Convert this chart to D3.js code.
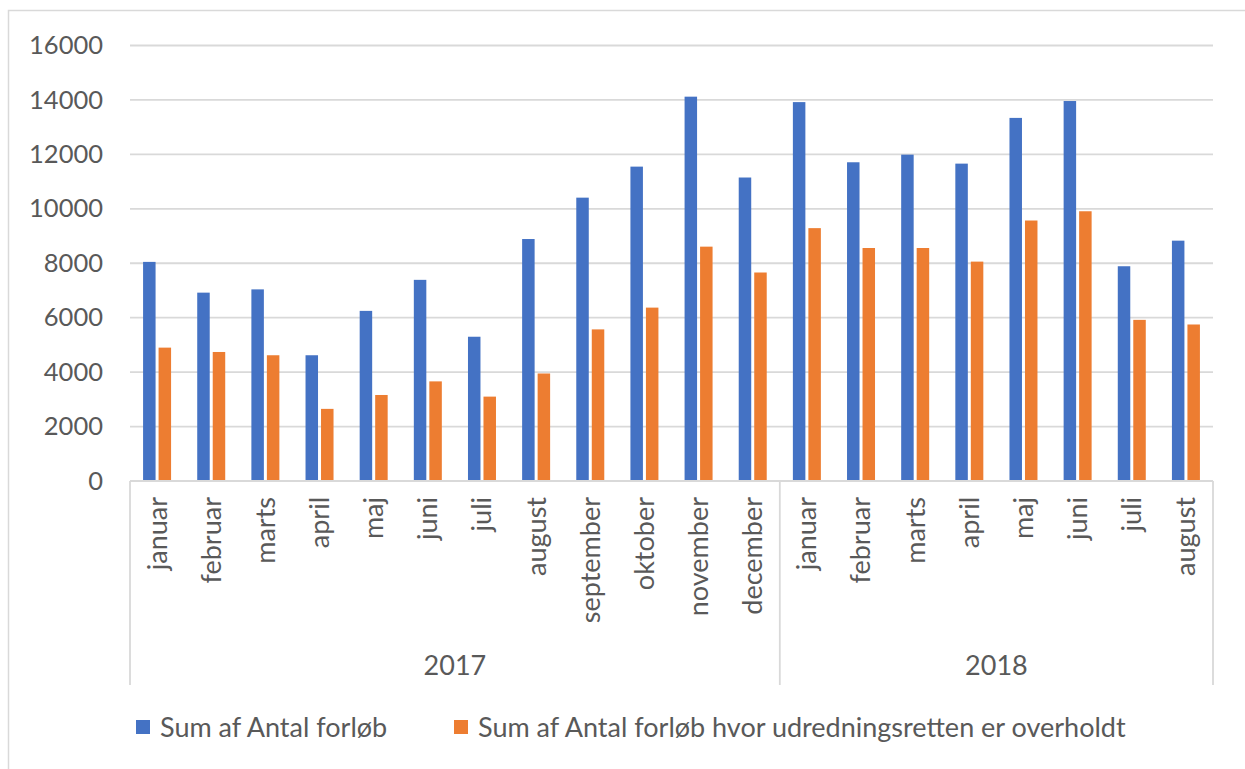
<!DOCTYPE html>
<html>
<head>
<meta charset="utf-8">
<script src="https://cdn.jsdelivr.net/npm/d3@7/dist/d3.min.js"></script>
<style>
  html, body { margin: 0; padding: 0; background: #ffffff; }
  svg { display: block; }
  text { font-family: Lato, "Open Sans", sans-serif; fill: #595959; }
</style>
</head>
<body>
<svg id="chart" width="1245" height="769"></svg>
<script>
// ---- data ----
const months = ["januar","februar","marts","april","maj","juni","juli","august","september","oktober","november","december",
                "januar","februar","marts","april","maj","juni","juli","august"];
const years = ["2017","2018"];
const monthsPerYear = [12, 8];
const seriesNames = ["Sum af Antal forløb", "Sum af Antal forløb hvor udredningsretten er overholdt"];
const antalForloeb = [8050, 6920, 7040, 4620, 6250, 7390, 5300, 8890, 10410, 11550, 14120, 11150,
                      13920, 11710, 11990, 11660, 13340, 13960, 7890, 8830];
const antalOverholdt = [4900, 4740, 4620, 2650, 3160, 3660, 3100, 3950, 5570, 6370, 8610, 7660,
                        9290, 8560, 8560, 8060, 9570, 9910, 5920, 5750];
const yTicks = [0, 2000, 4000, 6000, 8000, 10000, 12000, 14000, 16000];
const colors = ["#4472c4", "#ed7d31"];

// ---- layout ----
const svg = d3.select("#chart");
const mLeft = 130, mRight = 1213, mTop = 45.5, mBottom = 481, catBottom = 685;
const fs = 27, fsTick = 25.5;

// outer border
svg.append("rect").attr("x", 8.5).attr("y", 10.5).attr("width", 1250).attr("height", 780)
  .attr("fill", "none").attr("stroke", "#d9d9d9").attr("stroke-width", 1.5);

const idx = months.map((m, i) => i);
const x = d3.scaleBand().domain(idx).range([mLeft, mRight]).paddingInner(0.483).paddingOuter(0.2415);
const x1 = d3.scaleBand().domain([0, 1]).range([0, x.bandwidth()]).paddingInner(0.194);
const y = d3.scaleLinear().domain([0, 16000]).range([mBottom, mTop]);

// gridlines
svg.append("g").selectAll("line").data(yTicks.filter(t => t > 0)).join("line")
  .attr("x1", mLeft).attr("x2", mRight)
  .attr("y1", d => y(d)).attr("y2", d => y(d))
  .attr("stroke", "#d9d9d9").attr("stroke-width", 1.8);

// y axis labels
const yAxis = d3.axisLeft(y).tickValues(yTicks).tickFormat(d3.format("d")).tickSize(0).tickPadding(27);
const yg = svg.append("g").attr("transform", `translate(${mLeft},0)`).call(yAxis);
yg.select(".domain").remove();
yg.selectAll("text").style("font-size", fsTick + "px").attr("fill", "#595959").attr("font-family", "Lato");

// bars
const data = idx.map(i => [antalForloeb[i], antalOverholdt[i]]);
const groups = svg.append("g").selectAll("g").data(data).join("g")
  .attr("transform", (d, i) => `translate(${x(i)},0)`);
groups.selectAll("rect").data(d => d.map((v, s) => ({v, s}))).join("rect")
  .attr("x", d => x1(d.s)).attr("width", x1.bandwidth())
  .attr("y", d => y(d.v)).attr("height", d => y(0) - y(d.v))
  .attr("fill", d => colors[d.s]);

// category axis (multi-level)
svg.append("line").attr("x1", mLeft).attr("x2", mRight).attr("y1", mBottom).attr("y2", mBottom)
  .attr("stroke", "#d9d9d9").attr("stroke-width", 1.8);
const step = x.step();
const sepIdx = [0, monthsPerYear[0], monthsPerYear[0] + monthsPerYear[1]];
svg.append("g").selectAll("line").data(sepIdx).join("line")
  .attr("x1", d => mLeft + d * step).attr("x2", d => mLeft + d * step)
  .attr("y1", mBottom).attr("y2", catBottom)
  .attr("stroke", "#d9d9d9").attr("stroke-width", 1.8);

// month labels
svg.append("g").selectAll("text").data(months).join("text")
  .attr("transform", (d, i) => `translate(${x(i) + x.bandwidth() / 2},497) rotate(-90)`)
  .attr("text-anchor", "end").attr("dy", "0.35em")
  .style("font-size", fs + "px").text(d => d);

// year labels
svg.append("g").selectAll("text").data(years).join("text")
  .attr("x", (d, i) => mLeft + step * (sepIdx[i] + sepIdx[i + 1]) / 2)
  .attr("y", 675).attr("text-anchor", "middle")
  .style("font-size", fs + "px").text(d => d);

// legend
const legX = [136, 454];
const lg = svg.append("g").selectAll("g").data(seriesNames).join("g")
  .attr("transform", (d, i) => `translate(${legX[i]},0)`);
lg.append("rect").attr("x", 0).attr("y", 720).attr("width", 14).attr("height", 14)
  .attr("fill", (d, i) => colors[i]);
lg.append("text").attr("x", 24).attr("y", 737).style("font-size", fs + "px").text(d => d);
</script>
</body>
</html>
